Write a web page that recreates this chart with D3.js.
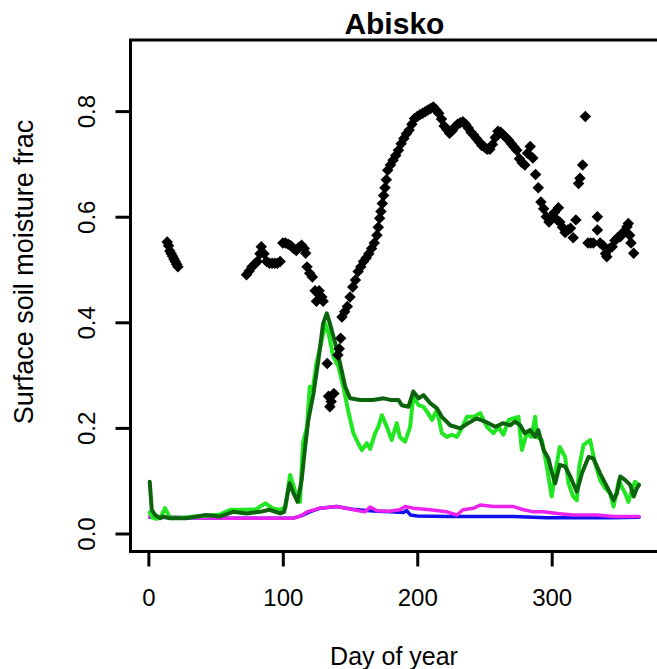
<!DOCTYPE html>
<html>
<head>
<meta charset="utf-8">
<script src="https://cdn.jsdelivr.net/npm/d3@7"></script>
<style>
  html, body { margin: 0; background: #fff; overflow: hidden; }
  svg { display: block; }
  text { font-family: "Liberation Sans", Arial, sans-serif; fill: #000; }
</style>
</head>
<body>
<div id="chart"></div>
<script>
// observed surface soil moisture (black diamonds)
var obsDay = [14,15,16,17,18,19,20,21,22,
  73,75,77,79,81,83,84,86,88,90,92,94,96,98,100,102,104,106,108,110,112,114,116,117,118,120,122,124,125,126,127,129,130,
  133,134,135,136,138,141,142,143,144,146,148,150,152,154,156,158,160,162,164,166,168,170,171,172,173,174,175,176,177,178,
  180,182,184,186,188,190,192,194,196,198,200,202,204,206,208,210,212,214,216,218,220,222,224,226,228,230,232,234,236,238,
  240,242,244,246,248,250,252,254,256,258,260,262,264,266,268,270,272,274,276,278,280,282,284,286,288,290,292,294,296,298,
  300,302,304,305,306,308,310,312,314,316,318,320,321,323,325,327,329,331,334,334,336,338,340,341,343,345,347,349,351,353,
  356,357,358,359,361];
var obsVal = [0.552,0.545,0.535,0.53,0.525,0.52,0.515,0.51,0.505,
  0.49,0.497,0.505,0.51,0.515,0.53,0.543,0.53,0.515,0.512,0.512,0.512,0.512,0.515,0.55,0.55,0.548,0.545,0.54,0.536,0.542,0.546,0.54,0.531,0.505,0.493,0.486,0.46,0.44,0.455,0.46,0.448,0.44,
  0.322,0.26,0.24,0.25,0.265,0.338,0.35,0.37,0.41,0.42,0.43,0.448,0.467,0.48,0.496,0.505,0.515,0.522,0.53,0.54,0.55,0.565,0.58,0.597,0.61,0.625,0.64,0.655,0.67,0.688,
  0.698,0.707,0.716,0.726,0.738,0.748,0.757,0.764,0.775,0.786,0.79,0.793,0.796,0.799,0.802,0.805,0.808,0.802,0.796,0.785,0.772,0.765,0.758,0.763,0.77,0.775,0.778,0.78,0.775,0.768,
  0.76,0.755,0.748,0.742,0.735,0.732,0.728,0.728,0.737,0.75,0.762,0.76,0.755,0.75,0.745,0.738,0.732,0.726,0.71,0.702,0.698,0.72,0.733,0.711,0.68,0.655,0.628,0.615,0.6,0.59,
  0.6,0.608,0.594,0.617,0.59,0.58,0.57,0.575,0.578,0.56,0.594,0.663,0.673,0.698,0.79,0.55,0.55,0.55,0.6,0.575,0.55,0.546,0.53,0.524,0.54,0.543,0.555,0.56,0.562,0.57,
  0.581,0.587,0.565,0.55,0.531];

// model run, dark green
var dgDay = [1,2.5,5,8.7,11,16,28,36,43,53,63,73,83,90,98,101,105,108,111,114,116.6,119,122.8,126.5,130,132.7,135,139,142.6,146.4,150,157.5,167,175,180,
  186,188.5,193.5,197,201,204.6,209.6,214.6,218.3,224.5,232,238,244,250.5,258,264,269,272.8,276.6,280,284,287.7,290,294,297.6,300,302.6,306,310,313.8,318.7,
  322.5,327.4,331,336,341,346,348.5,351,354.7,358.4,361,363.4,365];
var dgVal = [0.098,0.045,0.035,0.029,0.032,0.029,0.029,0.032,0.035,0.032,0.041,0.038,0.041,0.045,0.038,0.041,0.095,0.076,0.06,0.101,0.164,0.215,0.265,0.329,0.398,0.417,0.398,0.36,0.322,0.278,0.256,0.253,0.253,0.256,0.253,
  0.253,0.243,0.24,0.269,0.256,0.262,0.247,0.237,0.221,0.205,0.199,0.209,0.218,0.212,0.202,0.209,0.205,0.212,0.205,0.19,0.196,0.183,0.196,0.158,0.142,0.117,0.095,0.13,0.127,0.108,0.079,
  0.114,0.145,0.142,0.114,0.089,0.063,0.076,0.108,0.101,0.092,0.07,0.086,0.092];

// model run, light green
var lgDay = [1,3,6,9,12.4,16,25,35,45,53,61,71,80,87,93,98,102,105.4,109,112.8,115,118,120,122,125,129,131.5,134,137.6,141.4,145,149,152.5,156,158.8,162.5,165,168.7,171,173.7,
  177.4,181,184.8,187,191,194.7,197,201,204.6,208,211,214.6,218.3,222,225.7,229.5,233,237,242,246.8,251.8,256.7,260.4,264,268,271.6,275.3,277.8,281.5,285,287.7,289,292.7,
  296.4,300,302.6,306,310,312.5,316,318.7,320.5,323.7,328.6,332,336,339.8,343.5,346,350,352,354.7,357,359.7,362,364.6];
var lgVal = [0.04,0.03,0.028,0.03,0.048,0.03,0.03,0.032,0.034,0.036,0.045,0.045,0.046,0.057,0.047,0.045,0.05,0.111,0.082,0.06,0.171,0.202,0.278,0.27,0.322,0.366,0.398,0.379,0.335,0.316,0.278,0.228,0.19,0.171,0.158,0.171,0.16,0.19,0.202,0.224,
  0.202,0.177,0.209,0.183,0.174,0.202,0.259,0.243,0.24,0.228,0.215,0.234,0.19,0.183,0.187,0.183,0.199,0.221,0.221,0.228,0.202,0.19,0.202,0.187,0.215,0.218,0.221,0.158,0.19,0.183,0.221,0.183,0.177,
  0.127,0.07,0.114,0.164,0.145,0.095,0.07,0.063,0.127,0.168,0.177,0.136,0.101,0.086,0.076,0.051,0.101,0.089,0.076,0.06,0.082,0.098,0.092];

// model run, blue
var blueDay = [1,30,60,90,108,114,120,128,140,152,160,170,180,190,192,195,200,222,247,272,296,321,345,365];
var blueVal = [0.031,0.03,0.029,0.029,0.029,0.034,0.041,0.048,0.051,0.046,0.044,0.042,0.041,0.04,0.044,0.035,0.033,0.032,0.032,0.032,0.03,0.03,0.03,0.031];

// model run, magenta
var magDay = [1,30,60,90,108,114,118,127.7,140,152.5,161,165,170,179,187,191,197,209.6,222,229.5,234,242,246.8,256.7,266.5,271.6,279,286.5,294,304,316,333.6,346,365];
var magVal = [0.032,0.03,0.029,0.029,0.029,0.034,0.041,0.048,0.051,0.045,0.041,0.05,0.043,0.042,0.045,0.051,0.048,0.045,0.041,0.035,0.045,0.048,0.054,0.051,0.051,0.051,0.045,0.041,0.041,0.038,0.035,0.035,0.032,0.032];

var xTicks = [0, 100, 200, 300];
var yTicks = [0.0, 0.2, 0.4, 0.6, 0.8];

var w = 657, h = 669;
var mLeft = 130.5, mRight = 658.3, mTop = 40, mBottom = 551.5;

var svg = d3.select("#chart").append("svg")
  .attr("width", w)
  .attr("height", h);

var x = d3.scaleLinear().domain([-13.3, 379.3]).range([mLeft, mRight]);
var y = d3.scaleLinear().domain([-0.0341, 0.9347]).range([mBottom, mTop]);

// lines, drawn in the order of the original plot
function pairs(days, vals) {
  return days.map(function(d, i) { return [d, vals[i]]; });
}
var line = d3.line()
  .x(function(d) { return x(d[0]); })
  .y(function(d) { return y(d[1]); });

var series = [
  { data: pairs(blueDay, blueVal), color: "#1010ee", width: 3.5 },
  { data: pairs(magDay, magVal), color: "#ee22ee", width: 3.5 },
  { data: pairs(lgDay, lgVal), color: "#22e622", width: 4 },
  { data: pairs(dgDay, dgVal), color: "#0b640b", width: 4 }
];

svg.selectAll("path.series")
  .data(series)
  .enter()
  .append("path")
  .attr("class", "series")
  .attr("d", function(d) { return line(d.data); })
  .attr("fill", "none")
  .attr("stroke", function(d) { return d.color; })
  .attr("stroke-width", function(d) { return d.width; })
  .attr("stroke-linejoin", "round")
  .attr("stroke-linecap", "round");

// observations
var diamond = d3.symbol().type(d3.symbolSquare).size(66);
svg.selectAll("path.obs")
  .data(pairs(obsDay, obsVal))
  .enter()
  .append("path")
  .attr("class", "obs")
  .attr("d", diamond)
  .attr("transform", function(d) {
    return "translate(" + x(d[0]) + "," + y(d[1]) + ") rotate(45)";
  })
  .attr("fill", "#000");

// box: only top, left and bottom sides, the right side is off the picture
svg.append("path")
  .attr("d", "M" + w + "," + mTop + "H" + mLeft + "V" + mBottom + "H" + w)
  .attr("fill", "none")
  .attr("stroke", "#000")
  .attr("stroke-width", 3);

// x axis
var xAxis = d3.axisBottom(x).tickValues(xTicks).tickSize(15).tickPadding(22);
var gx = svg.append("g")
  .attr("transform", "translate(0," + mBottom + ")")
  .call(xAxis)
  .attr("font-size", 24)
  .attr("font-family", null);
gx.select(".domain").remove();
gx.selectAll(".tick line").attr("stroke-width", 3);

// y axis
var yAxis = d3.axisLeft(y).tickValues(yTicks).tickSize(15).tickFormat(d3.format(".1f")).tickPadding(0);
var gy = svg.append("g")
  .attr("transform", "translate(" + mLeft + ",0)")
  .call(yAxis)
  .attr("font-size", 24)
  .attr("font-family", null);
gy.select(".domain").remove();
gy.selectAll(".tick line").attr("stroke-width", 3);
gy.selectAll(".tick text")
  .attr("x", null).attr("dy", null)
  .attr("text-anchor", "middle")
  .attr("transform", "translate(-36,0) rotate(-90)");

// titles
svg.append("text")
  .attr("x", (mLeft + mRight) / 2)
  .attr("y", 34)
  .attr("text-anchor", "middle")
  .style("font-size", "30px")
  .style("font-weight", "bold")
  .text("Abisko");

svg.append("text")
  .attr("x", 394)
  .attr("y", 665)
  .attr("text-anchor", "middle")
  .style("font-size", "25px")
  .text("Day of year");

svg.append("text")
  .attr("transform", "translate(33,272) rotate(-90)")
  .attr("text-anchor", "middle")
  .style("font-size", "27px")
  .text("Surface soil moisture frac");
</script>
</body>
</html>
